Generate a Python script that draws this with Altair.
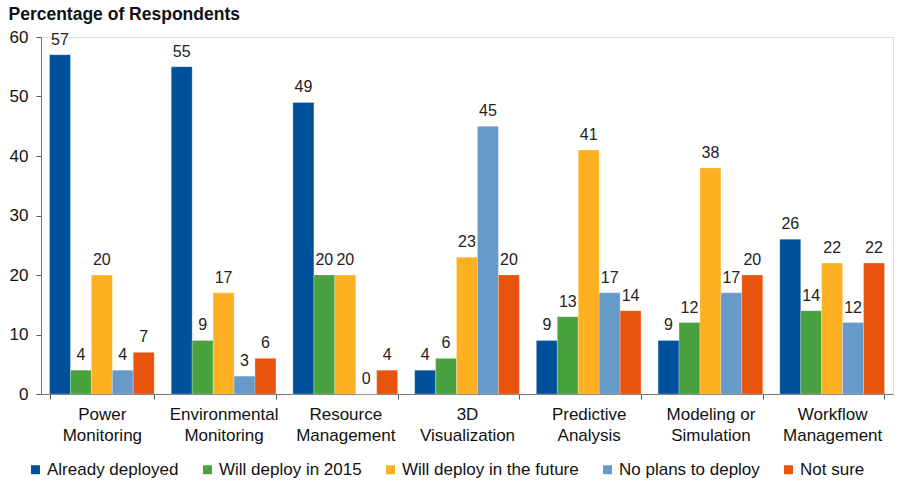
import altair as alt
import pandas as pd

categories = [
    "Power Monitoring",
    "Environmental Monitoring",
    "Resource Management",
    "3D Visualization",
    "Predictive Analysis",
    "Modeling or Simulation",
    "Workflow Management",
]
series = [
    "Already deployed",
    "Will deploy in 2015",
    "Will deploy in the future",
    "No plans to deploy",
    "Not sure",
]
already_deployed = [57, 55, 49, 4, 9, 9, 26]
deploy_2015 = [4, 9, 20, 6, 13, 12, 14]
deploy_future = [20, 17, 20, 23, 41, 38, 22]
no_plans = [4, 3, 0, 45, 17, 17, 12]
not_sure = [7, 6, 4, 20, 14, 20, 22]
colors = ["#00519b", "#48a240", "#fdb022", "#6799c9", "#e8530e"]

values = [already_deployed, deploy_2015, deploy_future, no_plans, not_sure]
rows = []
for s, vals in zip(series, values):
    for c, v in zip(categories, vals):
        rows.append({"category": c, "series": s, "value": v})
df = pd.DataFrame(rows)

FONT = "Liberation Sans"

# split each category name at its last space into two lines
label_expr = (
    "[substring(datum.label, 0, lastindexof(datum.label, ' ')), "
    "substring(datum.label, lastindexof(datum.label, ' ') + 1)]"
)

x = alt.X(
    "category:N",
    sort=categories,
    scale=alt.Scale(paddingInner=0.14, paddingOuter=0.07),
    axis=alt.Axis(
        title=None,
        labelAngle=0,
        labelExpr=label_expr,
        labelFont=FONT,
        labelFontSize=17,
        labelColor="#111111",
        labelLineHeight=21,
        labelPadding=7,
        labelLimit=200,
        tickBand="extent",
        tickSize=5,
        tickColor="#555555",
        domainColor="#777777",
    ),
)
x_off = alt.XOffset("series:N", sort=series, scale=alt.Scale(paddingInner=0, paddingOuter=0))
y = alt.Y(
    "value:Q",
    scale=alt.Scale(domain=[0, 60], nice=False),
    axis=alt.Axis(
        values=[0, 10, 20, 30, 40, 50, 60],
        grid=False,
        title="Percentage of Respondents",
        titleAngle=0,
        titleAlign="left",
        titleBaseline="alphabetic",
        titleX=-33,
        titleY=-18,
        titleFont=FONT,
        titleFontSize=17.5,
        titleFontWeight="bold",
        titleColor="#111111",
        labelFont=FONT,
        labelFontSize=17,
        labelColor="#111111",
        labelPadding=8,
        tickSize=5,
        tickColor="#555555",
        domainColor="#777777",
    ),
)
color = alt.Color(
    "series:N",
    sort=series,
    scale=alt.Scale(domain=series, range=colors),
    legend=alt.Legend(
        title=None,
        orient="none",
        legendX=-14,
        legendY=424,
        direction="horizontal",
        columns=5,
        columnPadding=20,
        symbolType="square",
        symbolSize=80,
        symbolStrokeWidth=0,
        labelFont=FONT,
        labelFontSize=17,
        labelColor="#111111",
        labelOffset=3,
        labelLimit=300,
    ),
)

bars = alt.Chart(df).mark_bar(stroke="white", strokeWidth=0.4, strokeOpacity=0.6).encode(
    x=x, xOffset=x_off, y=y, color=color
)
labels = alt.Chart(df).mark_text(
    baseline="alphabetic", dy=-10, font=FONT, fontSize=16, color="#222222"
).encode(x=x, xOffset=x_off, y=y, text=alt.Text("value:Q"))

chart = (
    alt.layer(bars, labels)
    .properties(
        width=852,
        height=357,
        autosize=alt.AutoSizeParams(type="none"),
        padding={"left": 41, "top": 37, "right": 7, "bottom": 94},
    )
    .configure_view(stroke=None)
    .configure(background="white")
)

chart.save("out.html", embed_options={"renderer": "svg", "actions": False})
